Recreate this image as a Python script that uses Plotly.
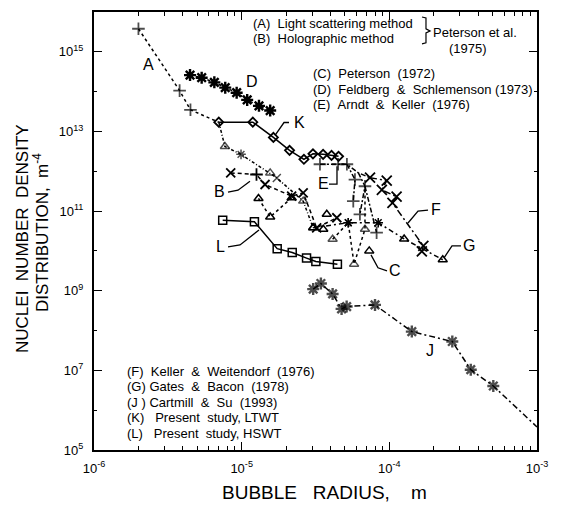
import plotly.graph_objects as go

NB = "\u00a0"

# ---------------- data (bubble radius [m], nuclei density [m^-4]) ----------------
# (A) Light scattering method
a_x = [2.0e-6, 3.8e-6, 4.5e-6, 7.0e-6]
a_y = [3.8e15, 1.06e14, 3.5e13, 1.7e13]
a_show = [1, 1, 1, 0]

# (D) Feldberg & Schlemenson
d_x = [4.47e-6, 5.36e-6, 6.53e-6, 7.74e-6, 9.25e-6, 1.09e-5, 1.31e-5, 1.56e-5]
d_y = [2.6e14, 2.24e14, 1.71e14, 1.26e14, 9.4e13, 6.2e13, 4.4e13, 3.35e13]

# (K) Present study, LTWT
k_x = [7.0e-6, 1.19e-5, 1.64e-5, 2.11e-5, 2.64e-5, 3.04e-5, 3.56e-5, 4.06e-5, 4.53e-5]
k_y = [1.71e13, 1.71e13, 7.1e12, 3.35e12, 2.0e12, 2.74e12, 2.66e12, 2.5e12, 2.37e12]

# (L) Present study, HSWT
l_x = [7.44e-6, 1.22e-5, 1.74e-5, 2.2e-5, 2.75e-5, 3.18e-5, 4.45e-5]
l_y = [5.85e10, 5.4e10, 1.14e10, 9.1e9, 6.6e9, 5.4e9, 4.65e9]

# (J) Cartmill & Su
j_x = [3.05e-5, 3.44e-5, 4.13e-5, 4.75e-5, 5.14e-5, 8.0e-5, 1.42e-4, 2.67e-4, 3.56e-4, 5.06e-4, 1.0e-3]
j_y = [1.1e9, 1.52e9, 8.3e8, 3.5e8, 4.0e8, 4.4e8, 9.4e7, 5.3e7, 1.04e7, 4.05e6, 3.8e5]
j_show = [1, 1, 1, 1, 1, 1, 1, 1, 1, 1, 0]

# (F) Keller & Weitendorf
f_x = [7.4e-5, 9.6e-5, 8.9e-5, 1.12e-4, 1.05e-4, 1.7e-4, 1.66e-4]
f_y = [6.9e11, 5.85e11, 3.4e11, 2.3e11, 1.6e11, 1.33e10, 9.7e9]

# (G) Gates & Bacon
g_x = [3.05e-5, 5.27e-5, 8.41e-5, 1.26e-4, 2.3e-4]
g_y = [3.8e10, 5.1e10, 5.1e10, 2.0e10, 6.0e9]
g_sym = ["triangle-up-open", "asterisk-open", "asterisk-open", "triangle-up-open", "triangle-up-open"]

# (B) Holographic method
b_x = [8.43e-6, 1.26e-5, 1.44e-5, 2.18e-5, 2.61e-5, 3.22e-5, 4.41e-5]
b_y = [9.1e11, 8.3e11, 4.65e11, 2.37e11, 2.87e11, 3.8e10, 6.8e10]
b_sym = ["x-thin-open", "cross-thin-open", "x-thin-open", "x-thin-open", "x-thin-open", "x-thin-open", "x-thin-open"]

# (C) Peterson (1972) - main branch
c_x = [7.0e-6, 7.7e-6, 9.9e-6, 1.56e-5, 1.73e-5, 2.61e-5, 3.05e-5]
c_y = [1.71e13, 4.2e12, 2.66e12, 9.1e11, 6.8e11, 1.78e11, 3.8e10]
c_sym = ["triangle-up-open", "triangle-up-open", "asterisk-open", "triangle-up-open", "x-thin-open", "triangle-up-open", "triangle-up-open"]
c_show = [0, 1, 1, 1, 1, 1, 1]

# (C) side branches
c2_x = [1.30e-5, 1.56e-5, 2.18e-5]
c2_y = [2.08e11, 7.1e10, 2.15e11]
c3_x = [4.13e-5, 5.27e-5, 5.77e-5, 6.84e-5, 6.84e-5]
c3_y = [1.96e10, 5.1e10, 4.65e9, 3.5e10, 4.2e11]
c3_show = [1, 1, 1, 1, 0]
c4_x = [3.57e-5, 3.77e-5, 7.31e-5]
c4_y = [3.5e10, 8.3e10, 1.0e10]

# (E) Arndt & Keller (segments separated by None)
e_x = [3.39e-5, 4.5e-5, 5.16e-5, 6.17e-5, 7.4e-5, None,
       5.16e-5, 5.85e-5, 5.7e-5, None,
       6.17e-5, 6.84e-5, 6.32e-5, None,
       6.84e-5, 8.2e-5]
e_y = [1.5e12, 1.5e12, 1.5e12, 9.1e11, 6.9e11, None,
       1.5e12, 6.2e11, 1.78e11, None,
       9.1e11, 4.2e11, 8.3e10, None,
       4.2e11, 2.87e10]
e_show = [1, 1, 1, 0, 0, 0,
          0, 1, 1, 0,
          0, 1, 1, 0,
          0, 1]

# tick labels
x_tickvals = [1e-6, 1e-5, 1e-4, 1e-3]
x_ticktext = ["10<sup>-6</sup>", "10<sup>-5</sup>", "10<sup>-4</sup>", "10<sup>-3</sup>"]
y_tickvals = [1e5, 1e7, 1e9, 1e11, 1e13, 1e15]
y_ticktext = ["10<sup>5</sup>", "10<sup>7</sup>", "10<sup>9</sup>", "10<sup>11</sup>", "10<sup>13</sup>", "10<sup>15</sup>"]
x_minor = [m * 10 ** e for e in (-6, -5, -4) for m in range(2, 10)]
y_minor = [1e6, 1e8, 1e10, 1e12, 1e14]

curve_labels = ["A", "D", "K", "E", "B", "L", "C", "F", "G", "J"]
legend_top = [f"(A){NB}{NB}Light scattering method", f"(B){NB}{NB}Holographic method"]
legend_right = [f"(C){NB}{NB}Peterson{NB}{NB}(1972)",
                f"(D){NB}{NB}Feldberg{NB}{NB}&{NB}{NB}Schlemenson{NB}(1973)",
                f"(E){NB}{NB}Arndt{NB}{NB}&{NB}{NB}Keller{NB}{NB}(1976)"]
legend_left = [f"(F){NB}{NB}Keller{NB}{NB}&{NB}{NB}Weitendorf{NB}{NB}(1976)",
               f"(G){NB}Gates{NB}{NB}&{NB}{NB}Bacon{NB}{NB}(1978)",
               f"(J{NB}){NB}Cartmill{NB}{NB}&{NB}{NB}Su{NB}{NB}(1993)",
               f"(K){NB}{NB}{NB}Present{NB}{NB}study,{NB}LTWT",
               f"(L){NB}{NB}{NB}Present{NB}{NB}study,{NB}HSWT"]

# ---------------- figure ----------------
fig = go.Figure()
LW = 1.5


def add(x, y, sym, dash, size=8, show=None, mlw=1.5, mode="lines+markers"):
    sizes = size if show is None else [size * s for s in show]
    fig.add_trace(go.Scatter(
        x=x, y=y, mode=mode, showlegend=False, connectgaps=False,
        line=dict(color="black", width=LW, dash=dash),
        marker=dict(symbol=sym, size=sizes, color="black",
                    line=dict(color="black", width=mlw))))


add(a_x, a_y, "cross-thin-open", "dot", 9, a_show, 1.8)
add(d_x, d_y, "asterisk-open", "dot", 10, None, 2.4)
add(k_x, k_y, "diamond-open", "solid", 7, None, 1.8)
add(l_x, l_y, "square-open", "solid", 8)
add(j_x, j_y, "asterisk-open", "6px,3px,2px,3px", 10, j_show, 2.4)
add(f_x, f_y, "x-thin-open", "7px,3px,2px,3px", 10, None, 1.8)
add(g_x, g_y, g_sym, "5px,3px,2px,3px", 8)
add(b_x, b_y, b_sym, "4px,3px", 9, None, 1.8)
add(c_x, c_y, c_sym, "3px,2px,1px,2px", 8, c_show)
add(c2_x, c2_y, "triangle-up-open", "dot", 8)
add(c3_x, c3_y, ["triangle-up-open", "asterisk-open", "triangle-up-open", "triangle-up-open", "triangle-up-open"], "dot", 8, c3_show)
add(c4_x, c4_y, "triangle-up-open", "solid", 8, None, 1.5, "markers")
add(e_x, e_y, "cross-thin-open", "5px,2px,2px,2px", 9, e_show, 1.8)

FONT = "Liberation Sans, Arial, sans-serif"


def px(x):
    return (x - 94) / 443.0


def py(y):
    return (450 - y) / 440.0


annotations = []
label_pos = [(148, 63), (252, 80), (299, 121), (323, 182), (219, 190),
             (220, 246), (395, 270), (436, 208), (469, 245), (430, 350)]
for t, (xx, yy) in zip(curve_labels, label_pos):
    annotations.append(dict(text=t, x=px(xx), y=py(yy), xref="paper", yref="paper",
                            showarrow=False, xanchor="center", yanchor="middle",
                            font=dict(family=FONT, size=16, color="black")))

leg_font = dict(family=FONT, size=13, color="black")
for t, yy in zip(legend_top, [22, 37]):
    annotations.append(dict(text=t, x=px(251), y=py(yy), xref="paper", yref="paper",
                            showarrow=False, xanchor="left", yanchor="middle", font=leg_font))
annotations.append(dict(text="Peterson et al.", x=px(431), y=py(31), xref="paper", yref="paper",
                        showarrow=False, xanchor="left", yanchor="middle", font=leg_font))
annotations.append(dict(text="(1975)", x=px(468), y=py(47), xref="paper", yref="paper",
                        showarrow=False, xanchor="center", yanchor="middle", font=leg_font))
for t, yy in zip(legend_right, [72, 87.5, 103]):
    annotations.append(dict(text=t, x=px(311), y=py(yy), xref="paper", yref="paper",
                            showarrow=False, xanchor="left", yanchor="middle", font=leg_font))
for t, yy in zip(legend_left, [371, 386.5, 402, 417.5, 433]):
    annotations.append(dict(text=t, x=px(125), y=py(yy), xref="paper", yref="paper",
                            showarrow=False, xanchor="left", yanchor="middle", font=leg_font))

# axis titles
title_font = dict(family=FONT, size=17, color="black")
annotations.append(dict(text=f"NUCLEI{NB}{NB}NUMBER{NB}{NB}DENSITY", x=px(23), y=py(238),
                        xref="paper", yref="paper", showarrow=False, textangle=-90,
                        xanchor="center", yanchor="middle", font=title_font))
annotations.append(dict(text=f"DISTRIBUTION,{NB}{NB}m<sup>-4</sup>", x=px(41), y=py(232),
                        xref="paper", yref="paper", showarrow=False, textangle=-90,
                        xanchor="center", yanchor="middle", font=title_font))
annotations.append(dict(text=f"BUBBLE{NB}{NB}{NB}RADIUS,{NB}{NB}{NB}{NB}m", x=px(324), y=py(493),
                        xref="paper", yref="paper", showarrow=False,
                        xanchor="center", yanchor="middle",
                        font=dict(family=FONT, size=19, color="black")))

# leader lines (pixel layout positions)
leaders = [
    [(289, 121), (284, 121), (275, 134)],   # K
    [(329, 183), (337, 183), (337, 165)],   # E
    [(228, 191), (238, 189), (250, 180)],   # B
    [(228, 246), (240, 244), (259, 229)],   # L
    [(387, 270), (378, 267), (371, 254)],   # C
    [(428, 209), (418, 210), (408, 222)],   # F
    [(461, 245), (452, 245), (444, 257)],   # G
]
shapes = []
for pts in leaders:
    path = "M " + " L ".join(f"{px(a):.4f},{py(b):.4f}" for a, b in pts)
    shapes.append(dict(type="path", path=path, xref="paper", yref="paper",
                       line=dict(color="black", width=1.3)))
# brace for Peterson et al.
brace = [(422, 15), (426, 16), (426, 27), (430, 29), (426, 31), (426, 41), (422, 42)]
shapes.append(dict(type="path",
                   path="M " + " L ".join(f"{px(a):.4f},{py(b):.4f}" for a, b in brace),
                   xref="paper", yref="paper", line=dict(color="black", width=1.2)))

tick_font = dict(family=FONT, size=13, color="black")
fig.update_layout(
    width=562, height=511,
    margin=dict(l=94, r=25, t=10, b=61),
    paper_bgcolor="white", plot_bgcolor="white",
    annotations=annotations, shapes=shapes,
    xaxis=dict(type="log", range=[-6, -3], showgrid=False, zeroline=False,
               showline=True, linecolor="black", linewidth=2, mirror="ticks",
               ticks="inside", ticklen=8, tickwidth=1.3, tickcolor="black",
               tickmode="array", tickvals=x_tickvals, ticktext=x_ticktext,
               tickfont=tick_font, ticklabelstandoff=5,
               minor=dict(tickmode="array", tickvals=x_minor, ticks="inside",
                          ticklen=4, tickwidth=1.2, tickcolor="black", showgrid=False)),
    yaxis=dict(type="log", range=[5, 16], showgrid=False, zeroline=False,
               showline=True, linecolor="black", linewidth=2, mirror="ticks",
               ticks="inside", ticklen=8, tickwidth=1.3, tickcolor="black",
               tickmode="array", tickvals=y_tickvals, ticktext=y_ticktext,
               tickfont=tick_font, ticklabelstandoff=6,
               minor=dict(tickmode="array", tickvals=y_minor, ticks="inside",
                          ticklen=3, tickwidth=1.0, tickcolor="black", showgrid=False)),
)

fig.write_html("out.html")
